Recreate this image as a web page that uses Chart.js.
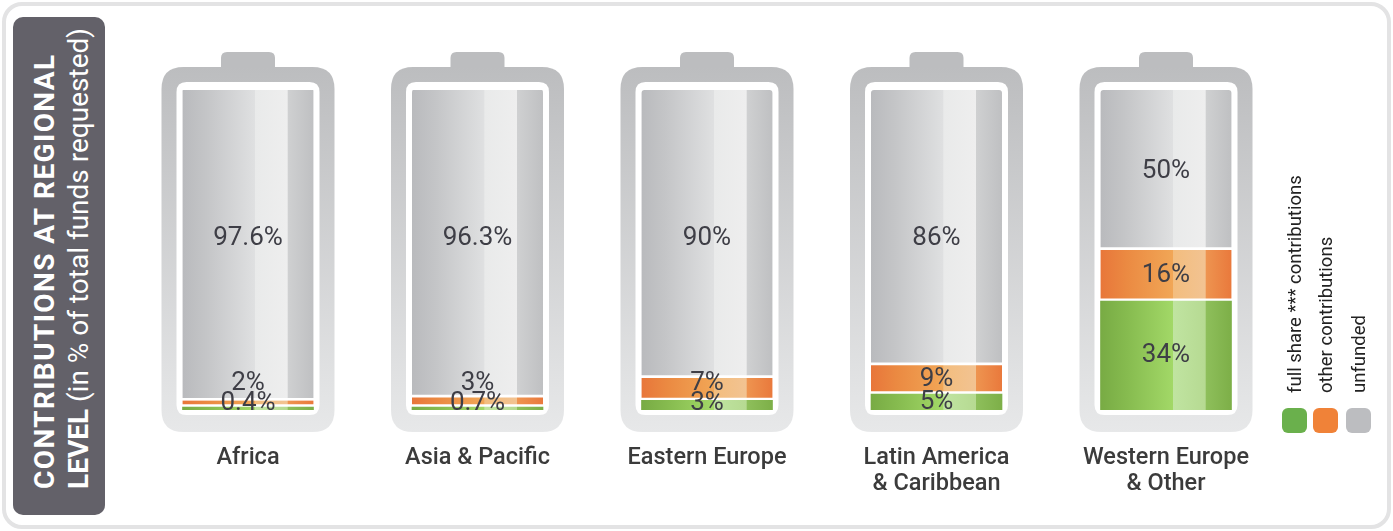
<!DOCTYPE html>
<html>
<head>
<meta charset="utf-8">
<script src="https://cdn.jsdelivr.net/npm/chart.js@4.4.1/dist/chart.umd.min.js"></script>
<style>
html,body{margin:0;padding:0;background:#fff;}
#wrap{position:relative;width:1393px;height:531px;overflow:hidden;font-family:Roboto,"Noto Sans",sans-serif;}
#frame{position:absolute;left:2px;top:2px;width:1381px;height:519px;border:4px solid #e3e3e4;border-radius:20px;}
#titlebox{position:absolute;left:13px;top:17px;width:92px;height:498px;background:#636169;border-radius:10px;}
.rot{position:absolute;transform:rotate(-90deg);transform-origin:0 0;white-space:nowrap;}
#title{left:28px;top:489px;color:#fff;font-size:28px;line-height:34px;}
#title b{font-weight:700;}
#title .l1{letter-spacing:1.4px;}
#chart{position:absolute;left:0;top:0;}
.leg{font-size:18.5px;line-height:20px;color:#222;}
.sw{position:absolute;width:25px;height:25px;border-radius:6px;top:408px;}
</style>
</head>
<body>
<div id="wrap">
  <div id="frame"></div>
  <div id="titlebox"></div>
  <div id="title" class="rot"><b class="l1">CONTRIBUTIONS AT REGIONAL</b><br><b>LEVEL</b> (in % of total funds requested)</div>
  <canvas id="chart" width="1393" height="531"></canvas>
  <div id="legend"></div>
</div>
<script>
// ---- data ----
const categories = ["Africa", "Asia & Pacific", "Eastern Europe", ["Latin America", "& Caribbean"], ["Western Europe", "& Other"]];
const fullShare = [0.4, 0.7, 3, 5, 34];
const otherContributions = [2, 3, 7, 9, 16];
const unfunded = [97.6, 96.3, 90, 86, 50];
const seriesNames = ["full share *** contributions", "other contributions", "unfunded"];
const valueLabels = [
  ["0.4%", "0.7%", "3%", "5%", "34%"],
  ["2%", "3%", "7%", "9%", "16%"],
  ["97.6%", "96.3%", "90%", "86%", "50%"]
];

// ---- styles ----
const swatchColors = ["#6ab04c", "#f08238", "#bcbdc0"];
const gradStops = [
  [[0,'#78ab44'],[0.2,'#86bb4f'],[0.55,'#a2d867'],[0.555,'#c0e4a1'],[0.8,'#b6da92'],[0.805,'#8ebf5b'],[1,'#7daf48']],
  [[0,'#e8763a'],[0.2,'#eb8a42'],[0.55,'#f1a656'],[0.555,'#f3bd7e'],[0.8,'#f2c392'],[0.805,'#ee9450'],[1,'#e9793c']],
  [[0,'#b9babd'],[0.18,'#c4c5c7'],[0.55,'#dfe0e1'],[0.555,'#e9eaea'],[0.8,'#eeeeee'],[0.805,'#cfd0d1'],[1,'#bfc0c2']]
];
const BAR_W = 131;

function barGradient(ds) {
  return function(ctx) {
    const chart = ctx.chart;
    if (!chart.chartArea || !chart.scales.x) return swatchColors[ds];
    const cx = chart.scales.x.getPixelForValue(ctx.dataIndex);
    const g = chart.ctx.createLinearGradient(cx - BAR_W / 2, 0, cx + BAR_W / 2, 0);
    gradStops[ds].forEach(s => g.addColorStop(s[0], s[1]));
    return g;
  };
}

function roundRect(c, x, y, w, h, r) {
  c.beginPath();
  c.moveTo(x + r, y);
  c.lineTo(x + w - r, y);
  c.quadraticCurveTo(x + w, y, x + w, y + r);
  c.lineTo(x + w, y + h - r);
  c.quadraticCurveTo(x + w, y + h, x + w - r, y + h);
  c.lineTo(x + r, y + h);
  c.quadraticCurveTo(x, y + h, x, y + h - r);
  c.lineTo(x, y + r);
  c.quadraticCurveTo(x, y, x + r, y);
  c.closePath();
}

const batteryPlugin = {
  id: 'battery',
  beforeDatasetsDraw(chart) {
    const c = chart.ctx, a = chart.chartArea;
    c.save();
    chart.getDatasetMeta(0).data.forEach((bar) => {
      const cx = bar.x;
      const oTop = a.top - 23, oBot = a.bottom + 22;
      const oL = cx - BAR_W / 2 - 21, oW = BAR_W + 42;
      // cap
      c.fillStyle = '#bcbdbf';
      roundRect(c, cx - 27, oTop - 15, 54, 24, 6);
      c.fill();
      // body
      const g = c.createLinearGradient(0, oTop, 0, oBot);
      g.addColorStop(0, '#bcbdbf');
      g.addColorStop(1, '#e7e8e9');
      c.fillStyle = g;
      roundRect(c, oL, oTop, oW, oBot - oTop, 22);
      c.fill();
      c.fillStyle = '#ffffff';
      roundRect(c, cx - BAR_W / 2 - 6, a.top - 8, BAR_W + 12, a.bottom - a.top + 13, 10);
      c.fill();
    });
    c.restore();
  },
  afterDatasetsDraw(chart) {
    const c = chart.ctx, a = chart.chartArea;
    c.save();
    c.font = '400 26px Roboto';
    c.fillStyle = '#3e3e46';
    c.textAlign = 'center';
    c.textBaseline = 'middle';
    const g = chart.getDatasetMeta(0).data, o = chart.getDatasetMeta(1).data, u = chart.getDatasetMeta(2).data;
    for (let i = 0; i < g.length; i++) {
      const gy = Math.min((g[i].y + g[i].base) / 2, a.bottom - 7);
      const oy = Math.min((o[i].y + o[i].base) / 2, gy - 20);
      const uh = u[i].base - u[i].y;
      const uy = uh > 200 ? a.top + 148 : (u[i].y + u[i].base) / 2 + 1;
      c.fillText(valueLabels[2][i], g[i].x, uy);
      c.fillText(valueLabels[1][i], g[i].x, oy);
      c.fillText(valueLabels[0][i], g[i].x, gy);
    }
    c.restore();
  }
};

const gapBorder = {top: 0, left: 0, right: 0, bottom: 3};

new Chart(document.getElementById('chart'), {
  type: 'bar',
  data: {
    labels: categories,
    datasets: [
      {label: seriesNames[0], data: fullShare, backgroundColor: barGradient(0), borderWidth: 0, minBarLength: 3, borderRadius: 3, borderSkipped: false},
      {label: seriesNames[1], data: otherContributions, backgroundColor: barGradient(1), borderColor: '#ffffff', borderWidth: gapBorder, borderRadius: 3, borderSkipped: false},
      {label: seriesNames[2], data: unfunded, backgroundColor: barGradient(2), borderColor: '#ffffff', borderWidth: gapBorder, borderRadius: 3, borderSkipped: false}
    ]
  },
  options: {
    responsive: false,
    animation: false,
    devicePixelRatio: 1,
    barThickness: BAR_W,
    layout: {padding: {left: 133.25, right: 112.25, top: 90, bottom: 0}},
    plugins: {legend: {display: false}, tooltip: {enabled: false}},
    scales: {
      x: {
        stacked: true,
        grid: {display: false, drawTicks: false},
        border: {display: false},
        ticks: {padding: 35, color: '#3b3b3b', font: {family: 'Roboto', size: 23.5, weight: '500', lineHeight: 1.1}, maxRotation: 0, autoSkip: false},
        afterFit(s) { s.height = 121; }
      },
      y: {stacked: true, display: false, min: 0, max: 100}
    }
  },
  plugins: [batteryPlugin]
});

// ---- legend (HTML text) ----
const legend = document.getElementById('legend');
const legX = [1282, 1313, 1346];
seriesNames.forEach((name, i) => {
  const t = document.createElement('div');
  t.className = 'rot leg';
  t.textContent = name;
  t.style.left = (legX[i] + 2.5) + 'px';
  t.style.top = '393px';
  legend.appendChild(t);
  const s = document.createElement('div');
  s.className = 'sw';
  s.style.left = legX[i] + 'px';
  s.style.background = swatchColors[i];
  legend.appendChild(s);
});
</script>
</body>
</html>
